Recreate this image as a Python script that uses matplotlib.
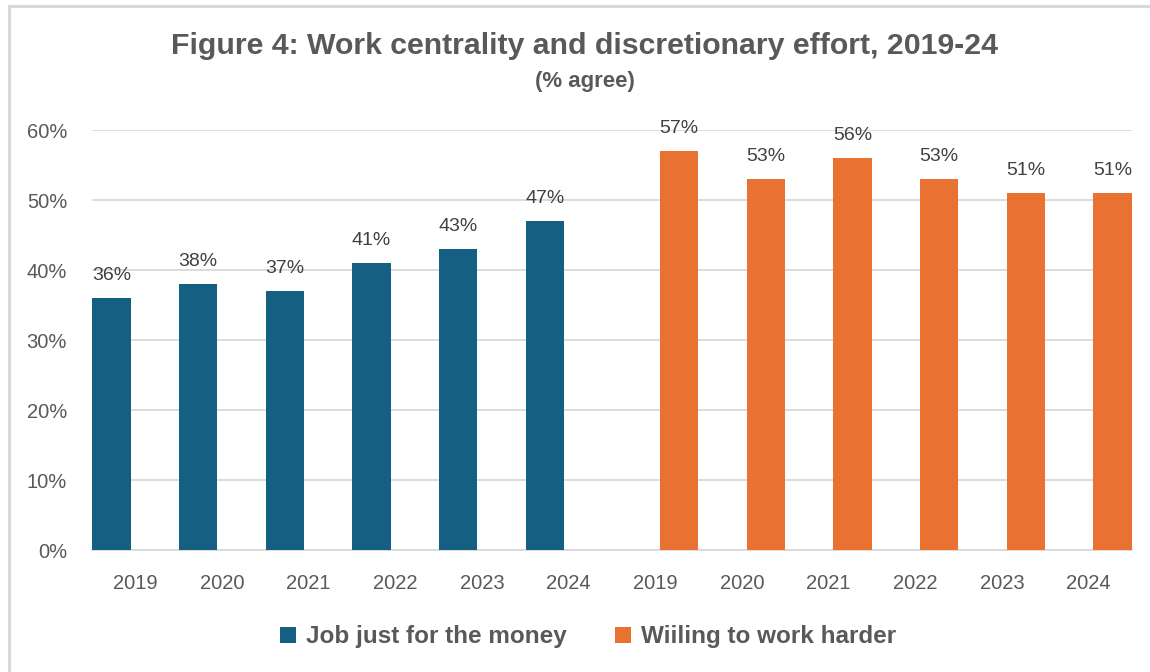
import matplotlib
matplotlib.use("Agg")
import matplotlib.pyplot as plt
import numpy as np
from matplotlib.patches import Rectangle, Patch
from matplotlib.ticker import PercentFormatter

categories = ["2019", "2020", "2021", "2022", "2023", "2024",
              "2019", "2020", "2021", "2022", "2023", "2024"]
series_names = ["Job just for the money", "Wiiling to work harder"]
job_money = [36, 38, 37, 41, 43, 47, None, None, None, None, None, None]
work_harder = [None, None, None, None, None, None, 57, 53, 56, 53, 51, 51]
yticks = [0, 10, 20, 30, 40, 50, 60]

BLUE = "#156082"
ORANGE = "#E97132"
TICK = "#595959"
LAB = "#404040"
GRID = "#D9D9D9"

fig = plt.figure(figsize=(11.5, 6.72), dpi=100)
ax = fig.add_axes([92/1150, 1-550/672, (1132-92)/1150, (550-130)/672])

x = np.arange(len(categories))
off = 0.275
w = 0.44

def draw(vals, sign, color, name):
    xs = [xi + sign*off for xi, v in zip(x, vals) if v is not None]
    vs = [v for v in vals if v is not None]
    bars = ax.bar(xs, vs, width=w, color=color, label=name, zorder=3)
    ax.bar_label(bars, labels=[f"{v}%" for v in vs], padding=10,
                 fontsize=14, color=LAB, family=["Liberation Sans", "DejaVu Sans"])
    return bars

draw(job_money, -1, BLUE, series_names[0])
draw(work_harder, 1, ORANGE, series_names[1])

ax.set_xlim(-0.5, len(categories) - 0.5)
ax.set_ylim(0, 60)
ax.set_yticks(yticks)
ax.yaxis.set_major_formatter(PercentFormatter(decimals=0))
ax.set_xticks(x)
ax.set_xticklabels(categories)
for lab in ax.get_xticklabels() + ax.get_yticklabels():
    lab.set_fontsize(14.5)
    lab.set_color(TICK)
    lab.set_family(["Liberation Sans", "DejaVu Sans"])
ax.tick_params(axis="both", length=0)
ax.tick_params(axis="x", pad=17)
ax.tick_params(axis="y", pad=18)
ax.grid(axis="y", color=GRID, linewidth=1.3, zorder=0)
for s in ["top", "right", "left"]:
    ax.spines[s].set_visible(False)
ax.spines["bottom"].set_color(GRID)
ax.spines["bottom"].set_linewidth(1.3)

fig.text(585/1150, 1-46/672, "Figure 4: Work centrality and discretionary effort, 2019-24",
         ha="center", va="center", fontsize=21.8, fontweight="bold", color=TICK,
         family=["Liberation Sans", "DejaVu Sans"])
fig.text(585/1150, 1-81/672, "(% agree)", ha="center", va="center",
         fontsize=16, fontweight="bold", color=TICK,
         family=["Liberation Sans", "DejaVu Sans"])

handles = [Patch(facecolor=BLUE), Patch(facecolor=ORANGE)]
leg = fig.legend(handles, series_names, loc="center", bbox_to_anchor=(588/1150, 1-637/672),
                 ncol=2, frameon=False, handlelength=0.65, handleheight=0.65,
                 handletextpad=0.4, columnspacing=2.0,
                 prop={"size": 17.5, "weight": "bold", "family": ["Liberation Sans", "DejaVu Sans"]})
for t in leg.get_texts():
    t.set_color(TICK)

fig.patches.append(Rectangle((9/1150, -0.1), 1.2, 1 - 6/672 + 0.1, transform=fig.transFigure,
                             fill=False, edgecolor=GRID, linewidth=2.2))

fig.savefig("out.png", dpi=100, facecolor="white")
